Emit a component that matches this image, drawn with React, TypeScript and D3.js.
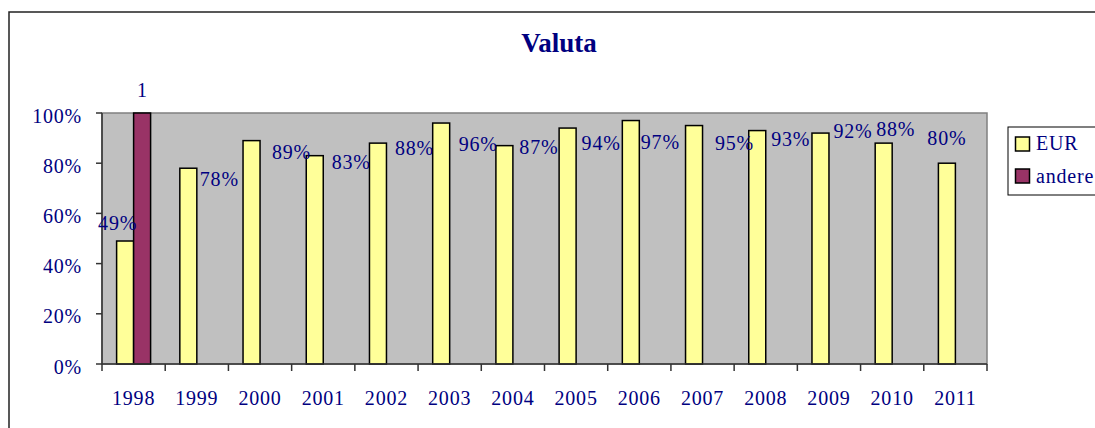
import React from "react";
import * as d3 from "d3";

const years = ["1998","1999","2000","2001","2002","2003","2004","2005","2006","2007","2008","2009","2010","2011"];
const seriesNames = ["EUR", "andere"];
const eurValues = [0.49,0.78,0.89,0.83,0.88,0.96,0.87,0.94,0.97,0.95,0.93,0.92,0.88,0.80];
const andereValues = [1,0,0,0,0,0,0,0,0,0,0,0,0,0];
const eurLabels = ["49%","78%","89%","83%","88%","96%","87%","94%","97%","95%","93%","92%","88%","80%"];
const andereLabels = ["1","","","","","","","","","","","","",""];
const yTicks = [0,0.2,0.4,0.6,0.8,1];
const yTickLabels = ["0%","20%","40%","60%","80%","100%"];
// manual label nudges (dx, dy) relative to bar centre / bar top, in px
const eurLabelNudge: [number, number][] = [
  [-7.5,-11],[31,18],[40,18],[36.5,13],[36.5,12],[37,28],[34.5,8],[33.5,22],[29.5,28],[40.5,24.5],[33.5,15],[32.5,5],[12,-7],[0,-18]
];

const W = 1095, H = 428;
const plot = { left: 102, right: 987, top: 113, bottom: 364 };
const TEXT = "#000080";
const FONT = "'Liberation Serif', 'Times New Roman', serif";
const colors = { EUR: "#FFFF99", andere: "#993366" };

export default function App() {
  const x0 = d3.scaleBand<string>().domain(years).range([plot.left, plot.right]).padding(0);
  const step = x0.bandwidth();
  const x1 = d3.scaleBand<string>().domain(seriesNames).range([0, step]).paddingInner(0).paddingOuter(0.86);
  const y = d3.scaleLinear().domain([0, 1]).range([plot.bottom, plot.top]);
  const bw = x1.bandwidth();
  const boundaries = years.map((yr) => x0(yr) as number).concat([plot.right]);

  return (
    <svg width={W} height={H} style={{ position: "absolute", left: 0, top: 0, display: "block", background: "#fff" }}
      fontFamily={FONT}>
      <rect x={9} y={12} width={1200} height={600} fill="#fff" stroke="#222" strokeWidth={1.5} />
      <text x={559} y={52} textAnchor="middle" fontWeight="bold" fontSize={27} fill={TEXT}>Valuta</text>

      <rect x={plot.left} y={plot.top} width={plot.right - plot.left} height={plot.bottom - plot.top}
        fill="#C0C0C0" stroke="#808080" strokeWidth={1.5} />

      {/* bars */}
      {years.map((yr, i) => {
        const bx = x0(yr) as number;
        return (
          <g key={yr}>
            <rect x={bx + (x1("EUR") as number)} y={y(eurValues[i])} width={bw}
              height={y(0) - y(eurValues[i])} fill={colors.EUR} stroke="#000" strokeWidth={1.5} />
            {andereValues[i] > 0 && (
              <rect x={bx + (x1("andere") as number)} y={y(andereValues[i])} width={bw}
                height={y(0) - y(andereValues[i])} fill={colors.andere} stroke="#000" strokeWidth={1.5} />
            )}
          </g>
        );
      })}

      {/* axes */}
      <line x1={plot.left} x2={plot.left} y1={plot.top} y2={plot.bottom} stroke="#333" strokeWidth={1.5} />
      <line x1={plot.left} x2={plot.right} y1={plot.bottom} y2={plot.bottom} stroke="#333" strokeWidth={1.5} />
      {yTicks.map((t, i) => (
        <g key={t}>
          <line x1={plot.left - 6} x2={plot.left} y1={y(t)} y2={y(t)} stroke="#333" strokeWidth={1.5} />
          <text x={82} y={y(t) + 9.5} textAnchor="end" fontSize={20} letterSpacing={0.8} fill={TEXT}>{yTickLabels[i]}</text>
        </g>
      ))}
      {boundaries.map((b, i) => (
        <line key={i} x1={b} x2={b} y1={plot.bottom} y2={plot.bottom + 7} stroke="#333" strokeWidth={1.5} />
      ))}
      {years.map((yr) => (
        <text key={yr} x={(x0(yr) as number) + step / 2} y={405} textAnchor="middle" fontSize={20}
          letterSpacing={0.8} fill={TEXT}>{yr}</text>
      ))}

      {/* data labels */}
      {years.map((yr, i) => {
        const cx = (x0(yr) as number) + (x1("EUR") as number) + bw / 2;
        const [dx, dy] = eurLabelNudge[i];
        return (
          <text key={"l" + yr} x={cx + dx} y={y(eurValues[i]) + dy} textAnchor="middle" fontSize={20}
            letterSpacing={0.8} fill={TEXT}>{eurLabels[i]}</text>
        );
      })}
      {years.map((yr, i) => andereValues[i] > 0 ? (
        <text key={"a" + yr} x={(x0(yr) as number) + (x1("andere") as number) + bw / 2} y={y(andereValues[i]) - 16}
          textAnchor="middle" fontSize={20} fill={TEXT}>{andereLabels[i]}</text>
      ) : null)}

      {/* legend */}
      <rect x={1008} y={127} width={200} height={68} fill="#fff" stroke="#000" strokeWidth={1} />
      {seriesNames.map((s, i) => (
        <g key={s}>
          <rect x={1015.5} y={137 + i * 32} width={14} height={14} fill={(colors as any)[s]} stroke="#000" strokeWidth={1.5} />
          <text x={1036} y={150 + i * 32.5} fontSize={20} letterSpacing={0.8} fill={TEXT}>{s}</text>
        </g>
      ))}
    </svg>
  );
}
